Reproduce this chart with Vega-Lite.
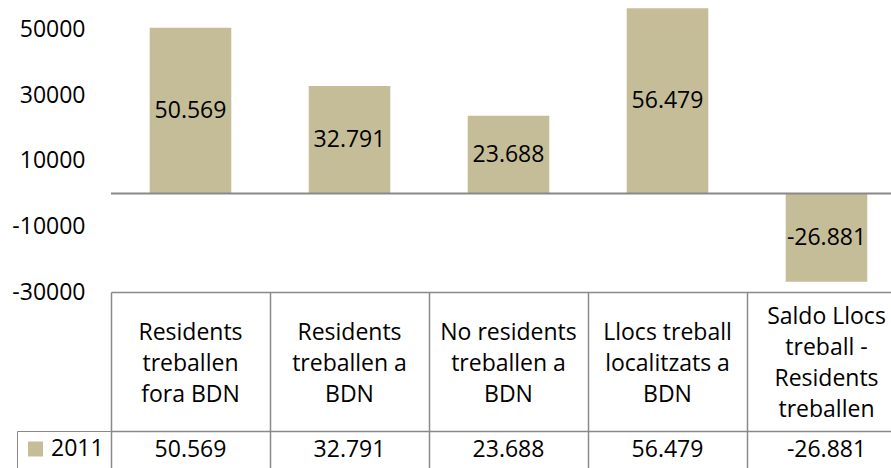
{
  "$schema": "https://vega.github.io/schema/vega-lite/v6.json",
  "padding": {"left": 11, "top": 0, "right": 0, "bottom": 0},
  "datasets": {
    "d": [
      {"categoria": "Residents\ntreballen\nfora BDN", "any": "2011", "valor": 50569},
      {"categoria": "Residents\ntreballen a\nBDN", "any": "2011", "valor": 32791},
      {"categoria": "No residents\ntreballen a\nBDN", "any": "2011", "valor": 23688},
      {"categoria": "Llocs treball\nlocalitzats a\nBDN", "any": "2011", "valor": 56479},
      {"categoria": "Saldo Llocs\ntreball -\nResidents\ntreballen", "any": "2011", "valor": -26881}
    ]
  },
  "data": {"name": "d"},
  "spacing": 0,
  "bounds": "flush",
  "resolve": {"scale": {"color": "independent"}, "legend": {"color": "independent"}},
  "config": {
    "view": {"stroke": null},
    "font": "Open Sans",
    "locale": {"number": {"decimal": ",", "thousands": ".", "grouping": [3], "currency": ["", " €"], "minus": "-"}}
  },
  "vconcat": [
    {
      "width": 781,
      "height": 292,
      "transform": [{"calculate": "datum.valor / 2", "as": "mig"}],
      "layer": [
        {
          "mark": {"type": "bar", "color": "#C4BD97", "width": {"band": 0.513}},
          "encoding": {
            "x": {"field": "categoria", "type": "nominal", "sort": null, "axis": null,
                  "scale": {"range": [0, 795], "paddingInner": 0, "paddingOuter": 0}},
            "y": {"field": "valor", "type": "quantitative", "title": null,
                  "scale": {"domain": [-30000, 59000], "nice": false, "zero": false},
                  "axis": {"values": [-30000, -10000, 10000, 30000, 50000], "format": "d", "title": null,
                           "domain": false, "ticks": false, "grid": false,
                           "labelFontSize": 23, "labelColor": "#000", "labelPadding": 26, "labelFont": "Open Sans"}}
          }
        },
        {
          "data": {"values": [{}]},
          "mark": {"type": "rule", "color": "#898989", "strokeWidth": 2},
          "encoding": {"y": {"datum": 0}}
        },
        {
          "mark": {"type": "text", "fontSize": 23, "color": "#000", "font": "Open Sans"},
          "encoding": {
            "x": {"field": "categoria", "type": "nominal", "sort": null},
            "y": {"field": "mig", "type": "quantitative", "title": null},
            "text": {"field": "valor", "type": "quantitative", "format": ",d"}
          }
        }
      ]
    },
    {
      "width": 781,
      "height": 139,
      "mark": {"type": "text", "fontSize": 23, "lineBreak": "\n", "lineHeight": 31, "color": "#000", "font": "Open Sans",
               "baseline": "middle",
               "dy": {"expr": "2 - 15.5 * (length(split(datum.categoria, '\\n')) - 1)"}},
      "encoding": {
        "x": {"field": "categoria", "type": "nominal", "sort": null,
              "scale": {"range": [0, 795], "paddingInner": 0, "paddingOuter": 0},
              "axis": {"orient": "top", "title": null, "labels": false, "ticks": false,
                       "domain": true, "domainColor": "#898989", "domainWidth": 1.5,
                       "grid": true, "gridColor": "#898989", "gridWidth": 1.5, "tickBand": "extent"}},
        "text": {"field": "categoria"}
      }
    },
    {
      "width": 781,
      "height": 37,
      "layer": [
        {
          "mark": {"type": "text", "fontSize": 23, "color": "#000", "font": "Open Sans"},
          "encoding": {
            "x": {"field": "categoria", "type": "nominal", "sort": null,
                  "scale": {"range": [0, 795], "paddingInner": 0, "paddingOuter": 0},
                  "axis": {"orient": "top", "title": null, "labels": false, "ticks": false,
                           "domain": true, "domainColor": "#898989", "domainWidth": 1.5,
                           "grid": true, "gridColor": "#898989", "gridWidth": 1.5, "tickBand": "extent"}},
            "text": {"field": "valor", "type": "quantitative", "format": ",d"}
          }
        },
        {
          "mark": {"type": "square", "opacity": 0},
          "encoding": {
            "x": {"field": "categoria", "type": "nominal", "sort": null},
            "color": {"field": "any", "type": "nominal", "scale": {"range": ["#C4BD97"]},
                      "legend": {"title": null, "orient": "left", "offset": 0, "symbolType": "square",
                                 "symbolSize": 225, "symbolOpacity": 1, "symbolStrokeWidth": 0,
                                 "labelFontSize": 23, "labelColor": "#000", "labelFont": "Open Sans",
                                 "labelOffset": 4, "padding": 7, "clipHeight": 22,
                                 "strokeColor": "#898989"}}
          }
        }
      ]
    }
  ]
}
